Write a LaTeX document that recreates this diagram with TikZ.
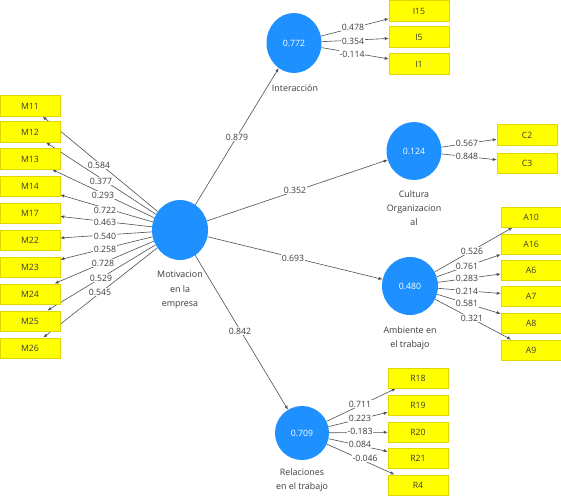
\documentclass[tikz,border=0pt]{standalone}
\usepackage{fontspec}
\setmainfont{Open Sans}
\usetikzlibrary{arrows.meta,shapes.geometric,calc}
\pgfdeclarelayer{back}
\pgfdeclarelayer{bg}
\pgfsetlayers{back,bg,main}
\definecolor{lvblue}{RGB}{30,144,255}
\definecolor{indyellow}{RGB}{255,255,0}
\definecolor{indborder}{RGB}{225,215,0}
\definecolor{txt}{RGB}{60,60,60}
\definecolor{edgecol}{RGB}{80,80,80}
\begin{document}
\begin{tikzpicture}[x=1pt,y=-1pt,
  ind/.style={draw=indborder, line width=0.5pt, fill=indyellow, minimum width=60pt, minimum height=20.5pt, inner sep=0pt, font=\fontsize{8.7}{10}\selectfont, text=txt},
  lv/.style={ellipse, fill=lvblue, draw=none, inner sep=0pt, text=white, font=\fontsize{8.7}{10}\selectfont},
  edge/.style={draw=edgecol, line width=0.6pt, -{Latex[length=4pt,width=3.2pt]}},
  lbl/.style={fill=white, inner sep=0.6pt, font=\fontsize{8.7}{10}\selectfont, text=txt},
  lvcap/.style={align=center, font=\fontsize{8.9}{14.2}\selectfont, text=txt}
]
\begin{pgfonlayer}{back}
\fill[white] (0,0) rectangle (561,497);
\end{pgfonlayer}
\useasboundingbox (0,0) rectangle (561,497);
% latent variables
\node[lv, minimum width=56pt, minimum height=60pt] (mot) at (180,230) {};
\node[lv, minimum width=55pt, minimum height=60pt] (int) at (294,43) {0.772};
\node[lv, minimum width=55pt, minimum height=58pt] (cul) at (414,151) {0.124};
\node[lv, minimum width=56pt, minimum height=58pt] (amb) at (410,286) {0.480};
\node[lv, minimum width=54pt, minimum height=54pt] (rel) at (302,433) {0.709};
% captions
\node[lvcap] (motcap) at (180,290) {Motivacion\\en la\\empresa};
\node[lvcap] (intcap) at (295,88) {Interacción};
\node[lvcap] (culcap) at (414,208) {Cultura\\Organizacion\\al};
\node[lvcap] (ambcap) at (410,338.5) {Ambiente en\\el trabajo};
\node[lvcap] (relcap) at (302,480) {Relaciones\\en el trabajo};
% indicators
\foreach \n/\y in {M11/106,M12/132,M13/159,M14/186,M17/213,M22/240,M23/267,M24/294,M25/321,M26/348}
  \node[ind] (\n) at (30,\y) {\n};
\foreach \n/\y in {I15/11,I5/37,I1/64}
  \node[ind] (\n) at (419,\y) {\n};
\foreach \n/\y in {C2/135,C3/163}
  \node[ind] (\n) at (527,\y) {\n};
\foreach \n/\y in {A10/217,A16/244,A6/270,A7/296,A8/323,A9/350}
  \node[ind] (\n) at (531,\y) {\n};
\foreach \n/\y in {R18/378,R19/405,R20/432,R21/458,R4/485}
  \node[ind] (\n) at (418,\y) {\n};
% connectors
\begin{pgfonlayer}{bg}
\foreach \n in {M11,M12,M13,M14,M17,M22,M23,M24,M25,M26}
  \draw[edge] (mot) -- (\n);
\foreach \n in {I15,I5,I1}
  \draw[edge] (int) -- (\n);
\foreach \n in {C2,C3}
  \draw[edge] (cul) -- (\n);
\foreach \n in {A10,A16,A6,A7,A8,A9}
  \draw[edge] (amb) -- (\n);
\foreach \n in {R18,R19,R20,R21,R4}
  \draw[edge] (rel) -- (\n);
\draw[edge] (mot) -- (int);
\draw[edge] (mot) -- (cul);
\draw[edge] (mot) -- (amb);
\draw[edge] (mot) -- (rel);
\end{pgfonlayer}
% loadings
\foreach \v/\x/\y [count=\i] in {0.584/99/165,0.377/101/181,0.293/103/195,0.722/105/210,0.463/105/222,0.540/105/236,0.258/105/249,0.728/103/263,0.529/101/278,0.545/100/292}
  \node[lbl] (lm\i) at (\x,\y) {\v};
\foreach \v/\x/\y [count=\i] in {0.478/353/27,0.354/353/41,-0.114/352/54}
  \node[lbl] (li\i) at (\x,\y) {\v};
\foreach \v/\x/\y [count=\i] in {0.567/467/143,0.848/467/156}
  \node[lbl] (lc\i) at (\x,\y) {\v};
\foreach \v/\x/\y [count=\i] in {0.526/472/251,0.761/467/266,0.283/467/278,0.214/467/291,0.581/467/303,0.321/472/318}
  \node[lbl] (la\i) at (\x,\y) {\v};
\foreach \v/\x/\y [count=\i] in {0.711/360/404,0.223/360/418,-0.183/360/431,0.084/360/444,-0.046/365/458}
  \node[lbl] (lr\i) at (\x,\y) {\v};
\node[lbl] (p1) at (237,137) {0.879};
\node[lbl] (p2) at (295,190) {0.352};
\node[lbl] (p3) at (293,258) {0.693};
\node[lbl] (p4) at (240,331) {0.842};
\end{tikzpicture}
\end{document}
